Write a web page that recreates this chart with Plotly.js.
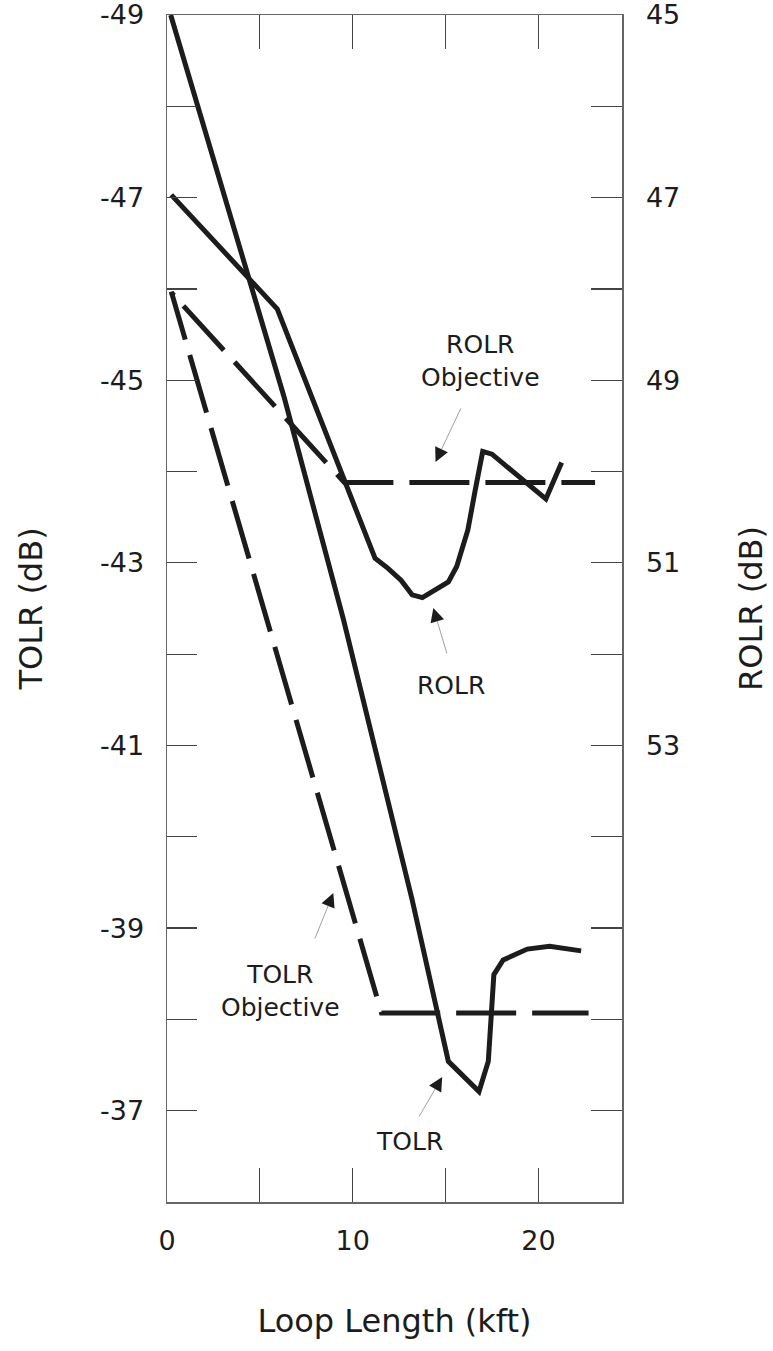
<!DOCTYPE html>
<html>
<head>
<meta charset="utf-8">
<script src="https://cdn.plot.ly/plotly-3.0.1.min.js"></script>
<style>html,body{margin:0;padding:0;background:#fff;}#chart{width:773px;height:1351px;}</style>
</head>
<body>
<div id="chart"></div>
<script>
// ---- Data ----
// TOLR measured (left axis, dB)
const tolrX = [0.2, 4.4, 6.3, 9.5, 13.2, 15.15, 16.8, 17.3, 17.6, 18.1, 19.4, 20.6, 22.3];
const tolrY = [-49.0, -46.13, -44.82, -42.38, -39.31, -37.54, -37.21, -37.54, -38.49, -38.65, -38.77, -38.8, -38.75];
// TOLR objective (left axis, dB)
const tolrObjX = [0.23, 11.55, 22.7];
const tolrObjY = [-45.97, -38.07, -38.07];
// ROLR measured (right axis, dB)
const rolrX = [0.23, 5.94, 11.2, 11.9, 12.6, 13.2, 13.75, 14.45, 15.15, 15.6, 16.2, 16.6, 17.0, 17.5, 20.4, 21.25];
const rolrY = [46.97, 48.22, 50.95, 51.06, 51.19, 51.35, 51.38, 51.30, 51.21, 51.04, 50.64, 50.2, 49.78, 49.81, 50.3, 49.9];
// ROLR objective (right axis, dB)
const rolrObjX = [0.23, 9.55, 23.05];
const rolrObjY = [48.04, 50.12, 50.12];

// Tick labels
const xTickVals = [0, 5, 10, 15, 20];
const xTickText = ['0', '', '10', '', '20'];
const leftTickVals = [-49, -48, -47, -46, -45, -44, -43, -42, -41, -40, -39, -38, -37, -36];
const leftTickText = ['-49', '', '-47', '', '-45', '', '-43', '', '-41', '', '-39', '', '-37', ''];
const rightTickVals = [45, 46, 47, 48, 49, 50, 51, 52, 53, 54, 55, 56, 57, 58];
const rightTickText = ['45', '', '47', '', '49', '', '51', '', '53', '', '', '', '', ''];

// ---- Styling ----
const FONT = 'DejaVu Sans, sans-serif';
const INK = '#1c1c1c';
function dashList(first, firstGap, n) {
  let s = first + 'px,' + firstGap + 'px';
  for (let i = 0; i < n; i++) s += ',60px,16px';
  return s;
}

const traces = [
  {x: tolrX, y: tolrY, type: 'scatter', mode: 'lines', name: 'TOLR',
   line: {color: INK, width: 5}, yaxis: 'y'},
  {x: tolrObjX, y: tolrObjY, type: 'scatter', mode: 'lines', name: 'TOLR Objective',
   line: {color: INK, width: 5, dash: dashList(50, 16, 13)}, yaxis: 'y'},
  {x: rolrX, y: rolrY, type: 'scatter', mode: 'lines', name: 'ROLR',
   line: {color: INK, width: 5}, yaxis: 'y2'},
  {x: rolrObjX, y: rolrObjY, type: 'scatter', mode: 'lines', name: 'ROLR Objective',
   line: {color: INK, width: 5, dash: dashList(4, 14, 8)}, yaxis: 'y2'}
];

// annotation helpers
function label(text, x, y) {
  return {text: text, x: x, y: y, xref: 'x', yref: 'y', showarrow: false,
          font: {family: FONT, size: 25, color: INK}, align: 'center'};
}
function pointer(x, y, ax, ay) {
  const len = Math.sqrt(ax * ax + ay * ay);
  const ux = ax / len, uy = ay / len;
  return [
    {text: '', x: x, y: y, xref: 'x', yref: 'y', ax: ax, ay: ay, showarrow: true,
     arrowhead: 0, arrowwidth: 1, arrowcolor: '#a0a0a0', standoff: 14},
    {text: '', x: x, y: y, xref: 'x', yref: 'y', ax: ux * 10, ay: uy * 10, showarrow: true,
     arrowhead: 2, arrowwidth: 2, arrowsize: 1.4, arrowcolor: INK}
  ];
}

const annotations = [
  label('ROLR<br>Objective', 16.87, -45.21),
  label('ROLR', 15.31, -41.66),
  label('TOLR<br>Objective', 6.10, -38.31),
  label('TOLR', 13.05, -36.66)
].concat(
  pointer(14.46, -44.105, 26, -55),
  pointer(14.34, -42.506, 14, 47),
  pointer(8.955, -39.384, -19, 47),
  pointer(14.82, -37.369, -24, 41)
);

const axisCommon = {
  showgrid: false, zeroline: false, showline: true, linecolor: '#666', linewidth: 1.5,
  ticks: 'inside', tickcolor: '#444', tickwidth: 1.2, ticklabeloverflow: 'allow',
  tickfont: {family: FONT, size: 27, color: INK}
};

const layout = {
  width: 773, height: 1351,
  margin: {l: 167, r: 151, t: 15, b: 149, pad: 0},
  paper_bgcolor: '#fff', plot_bgcolor: '#fff',
  showlegend: false,
  font: {family: FONT, color: INK},
  xaxis: Object.assign({}, axisCommon, {
    range: [0, 24.5], tickmode: 'array', tickvals: xTickVals, ticktext: xTickText,
    ticklen: 34, mirror: 'ticks', ticklabelstandoff: 14,
    title: {text: 'Loop Length (kft)', font: {family: FONT, size: 32, color: INK}, standoff: 54}
  }),
  yaxis: Object.assign({}, axisCommon, {
    range: [-36, -49], tickmode: 'array', tickvals: leftTickVals, ticktext: leftTickText,
    ticklen: 30, ticklabelstandoff: 16,
    title: {text: 'TOLR (dB)', font: {family: FONT, size: 32, color: INK}, standoff: 48}
  }),
  yaxis2: Object.assign({}, axisCommon, {
    overlaying: 'y', side: 'right',
    range: [58, 45], tickmode: 'array', tickvals: rightTickVals, ticktext: rightTickText,
    ticklen: 31, ticklabelstandoff: 17,
    title: {text: 'ROLR (dB)', font: {family: FONT, size: 32, color: INK}, standoff: 60}
  }),
  annotations: annotations
};

Plotly.newPlot('chart', traces, layout, {displayModeBar: false, staticPlot: true});
</script>
</body>
</html>
